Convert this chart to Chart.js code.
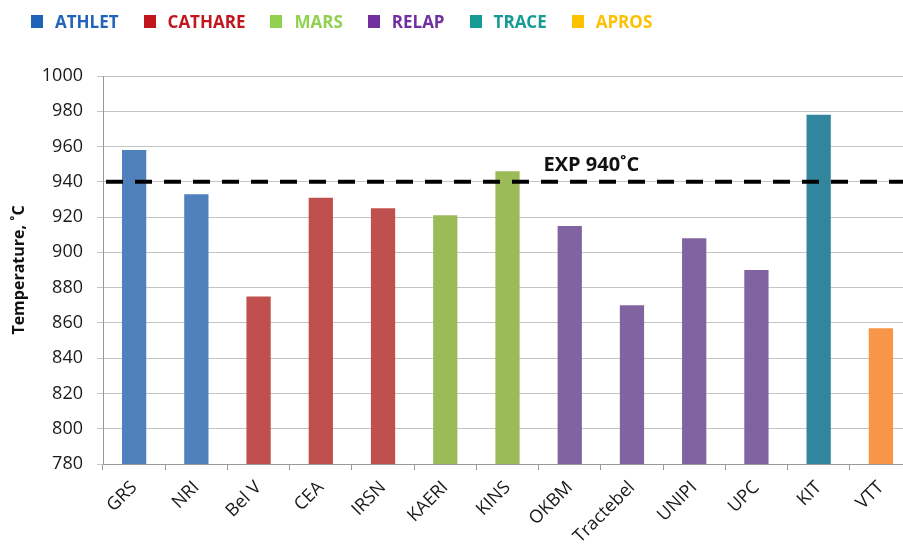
<!DOCTYPE html>
<html>
<head>
<meta charset="utf-8">
<script src="https://cdn.jsdelivr.net/npm/chart.js@4"></script>
<style>
  html, body { margin: 0; padding: 0; background: #fff; overflow: hidden; }
  #wrap { position: relative; width: 912px; height: 547px; }
  #legend { position: absolute; left: 31px; top: 10px; display: flex; gap: 25px;
            font: bold 17px 'Open Sans'; line-height: 23px; }
  #legend span.item { display: flex; align-items: center; }
  #legend i { display: inline-block; width: 12px; height: 13px; margin-right: 12px; }
</style>
</head>
<body>
<div id="wrap">
  <div id="legend"></div>
  <canvas id="chart" width="912" height="547"></canvas>
</div>
<script>
// data
const labs = ["GRS", "NRI", "Bel V", "CEA", "IRSN", "KAERI", "KINS", "OKBM", "Tractebel", "UNIPI", "UPC", "KIT", "VTT"];
const temps = [958, 933, 875, 931, 925, 921, 946, 915, 870, 908, 890, 978, 857];
const codes = ["ATHLET", "ATHLET", "CATHARE", "CATHARE", "CATHARE", "MARS", "MARS", "RELAP", "RELAP", "RELAP", "RELAP", "TRACE", "APROS"];
const codeNames = ["ATHLET", "CATHARE", "MARS", "RELAP", "TRACE", "APROS"];
const expValue = 940;
const yTicks = [780, 800, 820, 840, 860, 880, 900, 920, 940, 960, 980, 1000];

// colours
const barCol = { ATHLET: "#4F81BD", CATHARE: "#C0504D", MARS: "#9BBB59", RELAP: "#8064A2", TRACE: "#31859C", APROS: "#F79646" };
const legCol = { ATHLET: "#1F64B8", CATHARE: "#C0171E", MARS: "#92D050", RELAP: "#7030A0", TRACE: "#169A94", APROS: "#FFC000" };

// legend (html)
const leg = document.getElementById("legend");
codeNames.forEach(k => {
  const s = document.createElement("span");
  s.className = "item";
  s.style.color = legCol[k];
  s.innerHTML = `<i style="background:${legCol[k]}"></i>${k}`;
  leg.appendChild(s);
});

// dashed experimental line + label
const expLine = {
  id: "expLine",
  afterDatasetsDraw(c) {
    const ctx = c.ctx, a = c.chartArea;
    const y = c.scales.y.getPixelForValue(expValue);
    ctx.save();
    ctx.strokeStyle = "#000";
    ctx.lineWidth = 4;
    ctx.setLineDash([17, 12]);
    ctx.beginPath();
    ctx.moveTo(a.left + 3, y);
    ctx.lineTo(a.right, y);
    ctx.stroke();
    ctx.setLineDash([]);
    ctx.fillStyle = "#111";
    ctx.font = "bold 20px 'Open Sans'";
    ctx.textBaseline = "bottom";
    ctx.fillText("EXP " + expValue + "˚C", c.scales.x.getPixelForValue(6) + 36, y - 7);
    ctx.restore();
  }
};

new Chart(document.getElementById("chart"), {
  type: "bar",
  data: {
    labels: labs,
    datasets: [{
      data: temps,
      backgroundColor: codes.map(k => barCol[k]),
      borderWidth: 0,
      categoryPercentage: 1,
      barPercentage: 0.39
    }]
  },
  options: {
    responsive: false,
    animation: false,
    layout: { padding: { top: 76, right: 0, left: 0, bottom: 0 } },
    plugins: {
      tooltip: { enabled: false },
      legend: { display: false }
    },
    scales: {
      x: {
        grid: { display: true, drawOnChartArea: false, tickLength: 6, color: "#999" },
        border: { color: "#999" },
        ticks: {
          color: "#1a1a1a",
          font: { family: "'Open Sans'", size: 18 },
          minRotation: 45,
          maxRotation: 45,
          padding: 7
        },
        afterFit: s => { s.height = 83; }
      },
      y: {
        min: 780,
        max: 1000,
        afterBuildTicks: s => { s.ticks = yTicks.map(v => ({ value: v })); },
        grid: { color: "#c4c4c4", tickLength: 6 },
        border: { color: "#999" },
        ticks: {
          color: "#1a1a1a",
          font: { family: "'Open Sans'", size: 18 },
          padding: 14,
          callback: v => String(v)
        },
        title: {
          display: true,
          text: "Temperature, ˚C",
          color: "#111",
          font: { family: "'Open Sans'", size: 16, weight: "bold" },
          padding: { top: 10, bottom: 0 }
        },
        afterFit: s => { s.width = 103; }
      }
    }
  },
  plugins: [expLine]
});
</script>
</body>
</html>
